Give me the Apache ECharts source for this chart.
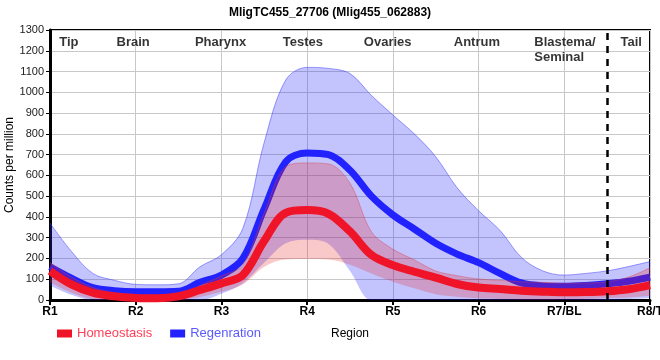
<!DOCTYPE html>
<html><head><meta charset="utf-8">
<script src="https://cdn.jsdelivr.net/npm/echarts@6/dist/echarts.min.js"></script>
<style>html,body{margin:0;padding:0;background:#fff}#c{width:660px;height:360px}</style>
</head><body><div id="c"></div>
<script>
const regionTicks = ['R1','R2','R3','R4','R5','R6','R7/BL','R8/T'];
const xs = ['0','0.25','0.5','0.75','1','1.25','1.5','1.75','2','2.25','2.5','2.75','3','3.25','3.5','3.75',
            '4','4.25','4.5','4.75','5','5.25','5.5','5.75','6','6.25','6.5','6.75','7'];
const regenMean  = [160,105,60,45,40,40,42,85,120,200,440,665,708,700,625,500,410,342,273,221,180,128,82,68,66,70,78,90,110];
const regenUpper = [370,234,128,95,75,73,78,160,218,345,760,1059,1120,1115,1090,985,891,800,690,540,430,335,205,140,120,128,140,161,185];
const regenLower = [70,25,0,0,0,0,0,0,30,81,180,273,290,270,140,0,0,0,0,0,0,0,0,0,0,0,0,5,10];
const homeoMean  = [140,75,35,18,10,8,18,48,80,120,285,420,433,415,330,217,168,136,108,77,60,53,45,40,37,38,42,52,72];
const homeoUpper = [180,110,60,35,25,22,28,70,115,170,420,642,660,655,562,329,245,193,140,117,101,95,88,85,80,82,88,110,155];
const homeoLower = [85,35,5,0,0,0,0,15,40,75,160,195,197,195,170,128,88,56,28,16,8,5,3,3,4,6,10,12,20];
const regionNames = ['Tip','Brain','Pharynx','Testes','Ovaries','Antrum','Blastema/\nSeminal','Tail'];
const regionNameX = [0.22,0.97,1.99,2.95,3.94,4.98,5.65,6.78];
const regionNameY = 1275;
const tailBoundary = '6.5';
const yAxisTitle = 'Counts per million';

const diffs = (up, lo) => up.map((v,i)=>v-lo[i]);

const chart = echarts.init(document.getElementById('c'));
const FONT = 'Liberation Sans, Arial, sans-serif';
const SM = 0.35;
chart.setOption({
  animation:false,
  textStyle:{fontFamily:FONT},
  title:{text:'MligTC455_27706 (Mlig455_062883)', left:'center', top:2,
    textStyle:{fontSize:12, fontWeight:'bold', color:'#000', fontFamily:FONT}},
  graphic:[{type:'text', x:10, y:165, rotation:Math.PI/2, silent:true,
    style:{text:yAxisTitle, fill:'#000', font:'12px ' + FONT, textAlign:'center', textVerticalAlign:'middle'}}],
  grid:{left:50, right:10, top:30, bottom:60, containLabel:false, outerBoundsMode:'none',
    show:true, borderColor:'#000', borderWidth:2, backgroundColor:'transparent'},
  legend:{left:52, top:322, itemWidth:15, itemHeight:8, itemGap:18, icon:'rect',
    data:[{name:'Homeostasis', textStyle:{color:'#ff4058'}},{name:'Regenration', textStyle:{color:'#5a5aff'}}],
    textStyle:{fontSize:13, fontFamily:FONT}},
  xAxis:[{type:'category', data:xs, boundaryGap:false,
    name:'Region', nameLocation:'middle', nameGap:28, nameTextStyle:{fontSize:12, color:'#000'},
    axisLine:{lineStyle:{color:'#000', width:3}},
    axisTick:{show:true, length:5, interval:3, lineStyle:{color:'#000', width:2}},
    axisLabel:{interval:3, formatter:(v)=>regionTicks[Number(v)], color:'#000', fontWeight:'bold', fontSize:12, margin:6},
    splitLine:{show:true, interval:3, lineStyle:{color:'#c8c8c8', width:1}}},
    {type:'value', min:0, max:7, show:false}],
  yAxis:{type:'value', min:0, max:1300, interval:100,
    axisLine:{show:true, lineStyle:{color:'#000', width:3}},
    axisTick:{show:true, length:4, lineStyle:{color:'#000'}},
    axisLabel:{color:'#222', fontSize:11, margin:6, formatter:(v)=>String(v)},
    splitLine:{lineStyle:{color:'#c8c8c8', width:1}}},
  series:[
    {type:'line', name:'regLo', data:regenLower, stack:'reg', smooth:SM, symbol:'none',
      lineStyle:{opacity:0}, silent:true, z:1},
    {type:'line', name:'regBand', data:diffs(regenUpper, regenLower), stack:'reg', smooth:SM, symbol:'none',
      lineStyle:{color:'rgba(60,60,250,0.5)', width:1}, areaStyle:{color:'rgba(40,40,250,0.4)'}, silent:true, z:1},
    {type:'line', name:'Regenration', data:regenMean, smooth:SM, symbol:'none',
      itemStyle:{color:'#2222ff'}, lineStyle:{color:'#2222ff', width:7}, z:2,
      markLine:{silent:true, symbol:'none', label:{show:false},
        lineStyle:{color:'#000', type:[7,6], width:2.5}, data:[{xAxis:tailBoundary}]}},
    {type:'line', name:'homLo', data:homeoLower, stack:'hom', smooth:SM, symbol:'none',
      lineStyle:{opacity:0}, silent:true, z:3},
    {type:'line', name:'homBand', data:diffs(homeoUpper, homeoLower), stack:'hom', smooth:SM, symbol:'none',
      lineStyle:{color:'rgba(220,60,60,0.4)', width:1}, areaStyle:{color:'rgba(230,30,30,0.35)'}, silent:true, z:3},
    {type:'line', name:'Homeostasis', data:homeoMean, smooth:SM, symbol:'none',
      itemStyle:{color:'#f01428'}, lineStyle:{color:'#f01428', width:8}, z:4},
    {type:'scatter', name:'labels', xAxisIndex:1, symbolSize:0, silent:true, z:5,
      data:regionNames.map((n,i)=>({value:[regionNameX[i], regionNameY], name:n,
        label: n.indexOf('\n')>=0 ? {align:'left'} : {}})),
      label:{show:true, position:'inside', formatter:(p)=>p.name, color:'#000', fontWeight:'bold', fontSize:13,
        verticalAlign:'top', lineHeight:15, fontFamily:FONT}}
  ]
});
</script></body></html>
